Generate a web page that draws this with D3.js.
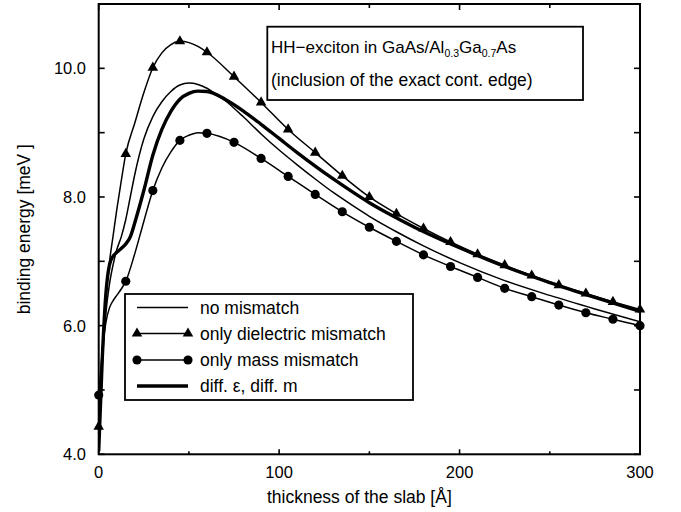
<!DOCTYPE html>
<html><head><meta charset="utf-8">
<script src="https://cdn.jsdelivr.net/npm/d3@7"></script>
<style>body{margin:0;background:#fff} text{font-family:"Liberation Sans",Arial,Helvetica,sans-serif;fill:#000}</style>
</head><body><svg id="c" width="681" height="512"></svg>
<script>
// ---- data ----
const xMajorTicks = [0, 100, 200, 300];
const xMinorTicks = [50, 150, 250];
const yMajorTicks = [4, 6, 8, 10];
const yMinorTicks = [5, 7, 9];

const seriesNames = ["no mismatch", "only dielectric mismatch", "only mass mismatch", "diff. \u03b5, diff. m"];

const thinX = [0,2,4,6,8,10,12.5,15,17.5,20,25,30,35,40,45,50,55,60,65,70,75,80,90,100,110,120,130,140,150,165,180,200,225,250,275,300];
const noMismatch = [4.1,5.4,6.2,6.65,6.95,7.18,7.38,7.65,8.0,8.35,8.9,9.25,9.48,9.64,9.74,9.77,9.75,9.69,9.6,9.5,9.38,9.25,8.98,8.73,8.5,8.28,8.07,7.88,7.7,7.46,7.24,6.98,6.7,6.47,6.26,6.06];

const thickX = [0,2,4,6,8,10,12.5,15,17.5,20,25,30,35,40,45,50,55,60,70,80,90,100,110,120,130,140,150,160,175,200,225,250,275,300];
const diffBoth = [4.05,5.5,6.5,6.95,7.08,7.14,7.2,7.27,7.38,7.6,8.1,8.65,9.05,9.33,9.52,9.61,9.645,9.64,9.52,9.34,9.13,8.91,8.69,8.48,8.28,8.09,7.91,7.75,7.53,7.21,6.92,6.67,6.44,6.22];

const markX = [0,2,4,6,8,10,12.5,15,20,25,30,35,40,45,50,55,60,75,90,105,120,135,150,165,180,195,210,225,240,255,270,285,300];
const onlyDielectric = [4.43,5.55,6.5,7.0,7.4,7.8,8.25,8.67,9.15,9.62,10.01,10.24,10.37,10.42,10.4,10.34,10.25,9.87,9.47,9.05,8.69,8.33,8.0,7.74,7.51,7.3,7.11,6.94,6.78,6.63,6.5,6.37,6.25];
const onlyMass = [4.92,5.6,6.05,6.28,6.39,6.47,6.57,6.69,7.12,7.62,8.1,8.45,8.7,8.88,8.96,9.0,8.99,8.85,8.6,8.32,8.04,7.77,7.53,7.31,7.1,6.92,6.75,6.58,6.45,6.32,6.2,6.1,6.0];
const markerStep = 15;

// ---- layout ----
const svg = d3.select("#c");
const L = 98.7, R = 640, T = 4, B = 454.3;
const x = d3.scaleLinear().domain([0, 300]).range([L, R]);
const y = d3.scaleLinear().domain([4, 11]).range([B, T]);

// ticks (inward)
const g = svg.append("g");
const tk = (x1,y1,x2,y2)=>g.append("line").attr("x1",x1).attr("y1",y1).attr("x2",x2).attr("y2",y2).attr("stroke","#000").attr("stroke-width",1.6);
xMajorTicks.forEach(v=>{ tk(x(v),B,x(v),B-5); tk(x(v),T,x(v),T+6); });
xMinorTicks.forEach(v=>{ tk(x(v),B,x(v),B-3); tk(x(v),T,x(v),T+4); });
yMajorTicks.concat(yMinorTicks).forEach(v=>{ tk(L,y(v),L+6,y(v)); tk(R,y(v),R-6,y(v)); });

// tick labels
svg.append("g").selectAll("text").data(yMajorTicks).join("text")
  .attr("x", 86).attr("y", d=>y(d)+6).attr("text-anchor","end").attr("font-size",16.5)
  .text(d=>d3.format(".1f")(d));
svg.append("g").selectAll("text").data(xMajorTicks).join("text")
  .attr("x", d=>x(d)).attr("y", 478).attr("text-anchor","middle").attr("font-size",16.5)
  .text(d=>d);

// axis titles
svg.append("text").attr("x", (L+R)/2-10).attr("y", 503).attr("text-anchor","middle").attr("font-size",17.5)
  .text("thickness of the slab [\u00c5]");
svg.append("text").attr("transform",`translate(30,${(T+B)/2}) rotate(-90)`).attr("text-anchor","middle").attr("font-size",17.5)
  .text("binding energy [meV ]");

// curves
const line = d3.line().x(d=>x(d[0])).y(d=>y(d[1])).curve(d3.curveMonotoneX);
svg.append("clipPath").attr("id","pc").append("rect").attr("x",L).attr("y",T).attr("width",R-L).attr("height",B-T);
const pg = svg.append("g").attr("clip-path","url(#pc)");
const zip = (xs,ys)=>xs.map((v,i)=>[v,ys[i]]);
pg.append("path").attr("d", line(zip(thinX,noMismatch))).attr("fill","none").attr("stroke","#000").attr("stroke-width",1.5);
pg.append("path").attr("d", line(zip(thickX,diffBoth))).attr("fill","none").attr("stroke","#000").attr("stroke-width",3.4);
pg.append("path").attr("d", line(zip(markX,onlyDielectric))).attr("fill","none").attr("stroke","#000").attr("stroke-width",1.5);
pg.append("path").attr("d", line(zip(markX,onlyMass))).attr("fill","none").attr("stroke","#000").attr("stroke-width",1.5);

const tri = d3.symbol().type(d3.symbolTriangle).size(48);
const circ = d3.symbol().type(d3.symbolCircle).size(66);
const mg = svg.append("g");
mg.selectAll("path.t").data(zip(markX,onlyDielectric).filter(d=>d[0]%markerStep===0)).join("path")
  .attr("class","t").attr("d",tri).attr("transform",d=>`translate(${x(d[0])},${y(d[1])})`).attr("fill","#000");
mg.selectAll("path.c").data(zip(markX,onlyMass).filter(d=>d[0]%markerStep===0)).join("path")
  .attr("class","c").attr("d",circ).attr("transform",d=>`translate(${x(d[0])},${y(d[1])})`).attr("fill","#000");

// frame
svg.append("rect").attr("x",L).attr("y",T).attr("width",R-L).attr("height",B-T).attr("fill","none").attr("stroke","#000").attr("stroke-width",2);

// legend
const lg = svg.append("g");
lg.append("rect").attr("x",125).attr("y",294).attr("width",288).attr("height",106).attr("fill","#fff").attr("stroke","#000").attr("stroke-width",1.8);
const rowY = [307.5, 333.5, 360, 386];
const styles = [{w:1.5,m:null},{w:1.5,m:tri},{w:1.5,m:circ},{w:3.4,m:null}];
seriesNames.forEach((name,i)=>{
  lg.append("line").attr("x1",137).attr("x2",188).attr("y1",rowY[i]).attr("y2",rowY[i]).attr("stroke","#000").attr("stroke-width",styles[i].w);
  if (styles[i].m) [137,188].forEach(px=>lg.append("path").attr("d",styles[i].m).attr("transform",`translate(${px},${rowY[i]})`).attr("fill","#000"));
  lg.append("text").attr("x",200).attr("y",rowY[i]+6).attr("font-size",17.5).text(name);
});

// annotation box
const ab = svg.append("g");
ab.append("rect").attr("x",267.3).attr("y",26.7).attr("width",315.7).attr("height",73.3).attr("fill","#fff").attr("stroke","#000").attr("stroke-width",1.8);
const t1 = ab.append("text").attr("x",271).attr("y",53).attr("font-size",17);
t1.append("tspan").text("HH\u2212exciton in GaAs/Al");
t1.append("tspan").attr("font-size",10.5).attr("dy",4).text("0.3");
t1.append("tspan").attr("dy",-4).text("Ga");
t1.append("tspan").attr("font-size",10.5).attr("dy",4).text("0.7");
t1.append("tspan").attr("dy",-4).text("As");
ab.append("text").attr("x",271).attr("y",86).attr("font-size",17.5).text("(inclusion of the exact cont. edge)");
</script></body></html>
